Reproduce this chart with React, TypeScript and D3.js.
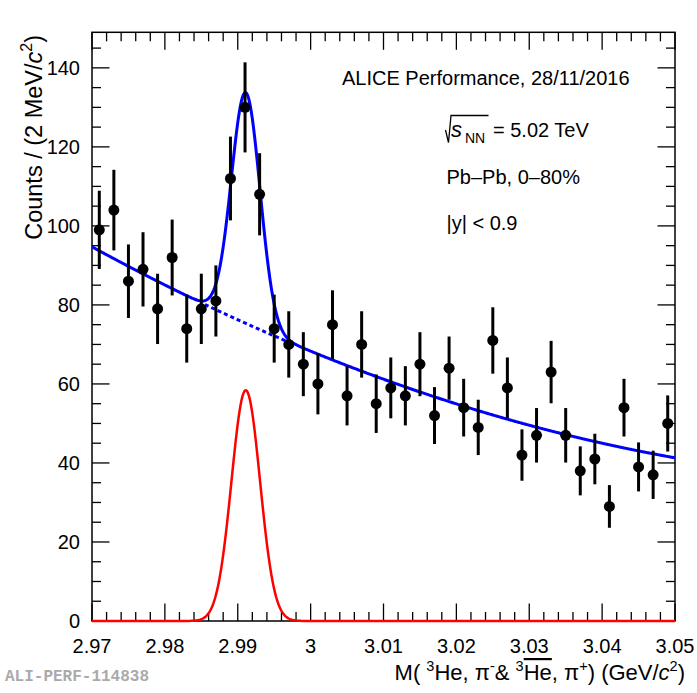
import React from "react";
import * as d3 from "d3";

const masses = [
  2.971, 2.973, 2.975, 2.977, 2.979, 2.981, 2.983, 2.985, 2.987, 2.989,
  2.991, 2.993, 2.995, 2.997, 2.999, 3.001, 3.003, 3.005, 3.007, 3.009,
  3.011, 3.013, 3.015, 3.017, 3.019, 3.021, 3.023, 3.025, 3.027, 3.029,
  3.031, 3.033, 3.035, 3.037, 3.039, 3.041, 3.043, 3.045, 3.047, 3.049,
];
const counts = [
  99, 104, 86, 89, 79, 92, 74, 79, 81, 112,
  130, 108, 74, 70, 65, 60, 75, 57, 70, 55,
  59, 57, 65, 52, 64, 54, 49, 71, 59, 42,
  47, 63, 47, 38, 41, 29, 54, 39, 37, 50,
];
const errors = [
  9.9, 10.2, 9.3, 9.4, 8.9, 9.6, 8.6, 8.9, 9.0, 10.6,
  11.4, 10.4, 8.6, 8.4, 8.1, 7.7, 8.7, 7.5, 8.4, 7.4,
  7.7, 7.5, 8.1, 7.2, 8.0, 7.3, 7.0, 8.4, 7.7, 6.5,
  6.9, 7.9, 6.9, 6.2, 6.4, 5.4, 7.3, 6.2, 6.1, 7.1,
];

// fit parameters
const bkgParams = [94.7, -1007.5, 4250]; // pol2 in (m - 2.97)
const gausParams = { amp: 58.4, mean: 2.9911, sigma: 0.00196 };
const bkgDashedRange = [2.9855, 2.9967];

const xDomain = [2.97, 3.05];
const yDomain = [0, 149];
const xMajorTicks = [2.97, 2.98, 2.99, 3.0, 3.01, 3.02, 3.03, 3.04, 3.05];
const xTickLabels = ["2.97", "2.98", "2.99", "3", "3.01", "3.02", "3.03", "3.04", "3.05"];
const yMajorTicks = [0, 20, 40, 60, 80, 100, 120, 140];
const yTickLabels = ["0", "20", "40", "60", "80", "100", "120", "140"];

const W = 697;
const H = 693;
const L = 92, R = 675, T = 32.3, B = 621;

const bkg = (m: number) => {
  const t = m - 2.97;
  return bkgParams[0] + bkgParams[1] * t + bkgParams[2] * t * t;
};
const gaus = (m: number) =>
  gausParams.amp * Math.exp(-0.5 * ((m - gausParams.mean) / gausParams.sigma) ** 2);
const total = (m: number) => bkg(m) + gaus(m);

export default function App() {
  const x = d3.scaleLinear().domain(xDomain).range([L, R]);
  const y = d3.scaleLinear().domain(yDomain).range([B, T]);

  const xMinor = d3.range(0, 41).map((i) => xDomain[0] + i * 0.002);
  const yMinor = d3.range(0, 149, 5);

  const samples = d3.range(0, 801).map((i) => xDomain[0] + (i / 800) * (xDomain[1] - xDomain[0]));
  const dashedSamples = d3
    .range(0, 101)
    .map((i) => bkgDashedRange[0] + (i / 100) * (bkgDashedRange[1] - bkgDashedRange[0]));

  const line = (f: (m: number) => number) =>
    d3
      .line<number>()
      .x((m) => x(m))
      .y((m) => y(f(m)));

  const font = "'Liberation Sans', Arial, Helvetica, sans-serif";
  const majorLen = 17.5;
  const minorLen = 9;

  return (
    <svg
      width={W}
      height={H}
      style={{ position: "absolute", left: 0, top: 0, background: "#fff" }}
      fontFamily={font}
    >
      <rect x={0} y={0} width={W} height={H} fill="#fff" />
      {/* ticks */}
      <g stroke="#000" strokeWidth={1.3}>
        {xMinor.map((m, i) => {
          const major = i % 5 === 0;
          const len = major ? majorLen : minorLen;
          return (
            <g key={"xt" + i}>
              <line x1={x(m)} x2={x(m)} y1={B} y2={B - len} />
              <line x1={x(m)} x2={x(m)} y1={T} y2={T + len} />
            </g>
          );
        })}
        {yMinor.map((v, i) => {
          const major = v % 20 === 0;
          const len = major ? majorLen : minorLen;
          return (
            <g key={"yt" + i}>
              <line x1={L} x2={L + len} y1={y(v)} y2={y(v)} />
              <line x1={R} x2={R - len} y1={y(v)} y2={y(v)} />
            </g>
          );
        })}
      </g>
      <rect x={L} y={T} width={R - L} height={B - T} fill="none" stroke="#000" strokeWidth={1.5} />

      {/* tick labels */}
      <g fontSize={20} fill="#000">
        {xMajorTicks.map((m, i) => (
          <text key={"xl" + i} x={x(m)} y={653} textAnchor="middle">
            {xTickLabels[i]}
          </text>
        ))}
        {yMajorTicks.map((v, i) => (
          <text key={"yl" + i} x={80} y={y(v) + 7} textAnchor="end">
            {yTickLabels[i]}
          </text>
        ))}
      </g>

      {/* fit curves */}
      <path d={line(gaus)(samples) || ""} fill="none" stroke="#ff0000" strokeWidth={2.5} />
      <path
        d={line(bkg)(dashedSamples) || ""}
        fill="none"
        stroke="#0000ff"
        strokeWidth={3}
        strokeDasharray="4,3"
      />
      <path d={line(total)(samples) || ""} fill="none" stroke="#0000ff" strokeWidth={3} />

      {/* data points */}
      <g>
        {masses.map((m, i) => (
          <g key={"p" + i}>
            <line
              x1={x(m)}
              x2={x(m)}
              y1={y(counts[i] - errors[i])}
              y2={y(counts[i] + errors[i])}
              stroke="#000"
              strokeWidth={3}
            />
            <circle cx={x(m)} cy={y(counts[i])} r={5.5} fill="#000" />
          </g>
        ))}
      </g>

      {/* labels */}
      <text x={342} y={84.5} fontSize={20}>
        ALICE Performance, 28/11/2016
      </text>
      <path d="M445.5,130 L448.5,142.5 L451,115.5 L488.5,115.5" fill="none" stroke="#000" strokeWidth={1.3} />
      <text x={451} y={137} fontSize={22} fontStyle="italic">
        s
      </text>
      <text x={465} y={142.5} fontSize={14}>
        NN
      </text>
      <text x={493} y={137} fontSize={20}>
        = 5.02 TeV
      </text>
      <text x={446.5} y={183.5} fontSize={20}>
        Pb–Pb, 0–80%
      </text>
      <text x={446.5} y={230} fontSize={20}>
        |y| &lt; 0.9
      </text>

      {/* axis titles */}
      <text x={685} y={680} fontSize={22} textAnchor="end">
        <tspan>M( </tspan>
        <tspan fontSize={14.5} dy={-9}>3</tspan>
        <tspan dy={9}>He, π</tspan>
        <tspan fontSize={14.5} dy={-9}>-</tspan>
        <tspan dy={9}>&amp; </tspan>
        <tspan fontSize={14.5} dy={-9}>3</tspan>
        <tspan dy={9} style={{ textDecoration: "overline" }}>He</tspan>
        <tspan>, π</tspan>
        <tspan fontSize={14.5} dy={-9}>+</tspan>
        <tspan dy={9}>) (GeV/</tspan>
        <tspan fontStyle="italic">c</tspan>
        <tspan fontSize={14.5} dy={-9}>2</tspan>
        <tspan dy={9}>)</tspan>
      </text>
      <text transform="translate(42,35) rotate(-90)" fontSize={23.5} textAnchor="end">
        <tspan>Counts / (2 MeV/</tspan>
        <tspan fontStyle="italic">c</tspan>
        <tspan fontSize={16} dy={-10}>2</tspan>
        <tspan dy={10}>)</tspan>
      </text>

      <text
        x={5}
        y={681}
        fontSize={16}
        fontWeight="bold"
        fontFamily="'Liberation Mono', 'Courier New', monospace"
        fill="#aaaaaa"
      >
        ALI-PERF-114838
      </text>
    </svg>
  );
}
